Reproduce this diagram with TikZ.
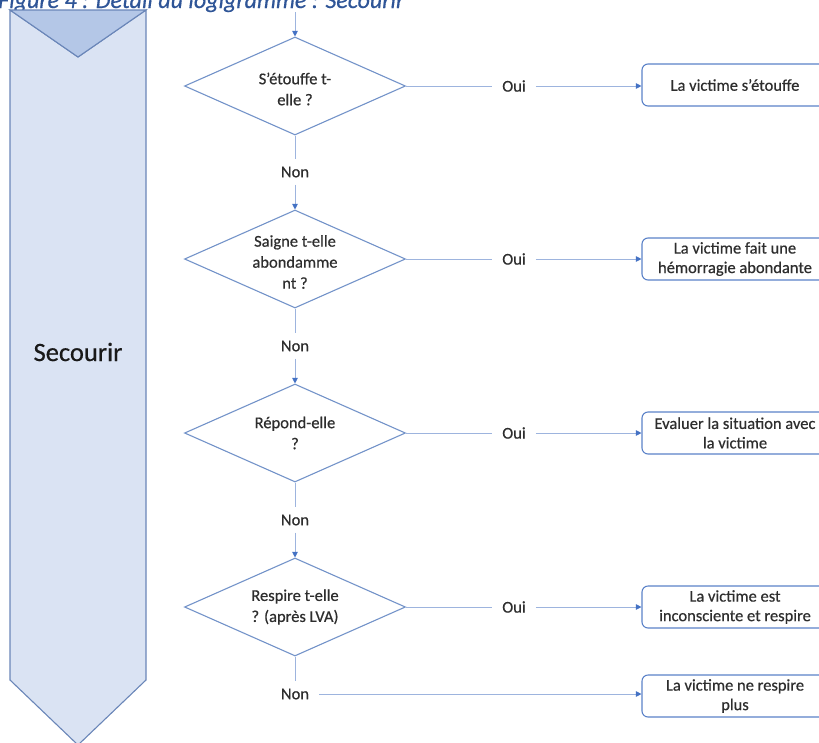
\documentclass[tikz,border=0pt]{standalone}
\usepackage{fontspec}
\setmainfont{Carlito}[FakeBold=0.5]
\usetikzlibrary{shapes.geometric,arrows.meta}
\definecolor{chevfill}{HTML}{DAE3F3}
\definecolor{chevtop}{HTML}{B4C7E7}
\definecolor{chevline}{HTML}{6A86B8}
\definecolor{dialine}{HTML}{7393C9}
\definecolor{conline}{HTML}{9DB4DE}
\definecolor{tipcol}{HTML}{4472C4}
\definecolor{boxline}{HTML}{5B82C8}
\definecolor{txt}{HTML}{2E2E2E}
\definecolor{titlecol}{HTML}{2F5597}
\tikzset{
  dia/.style={shape=diamond, draw=dialine, line width=1.1pt, fill=white, inner sep=0pt,
    minimum width=221pt, minimum height=98pt, aspect=2.25},
  dtext/.style={font=\fontsize{16.5}{21}\selectfont, text=txt, align=center, inner sep=0pt},
  lbl/.style={font=\fontsize{16.5}{20}\selectfont, text=txt, inner sep=0pt, fill=white},
  outbox/.style={draw=boxline, line width=1.1pt, rounded corners=6pt, fill=white,
    minimum width=186pt, minimum height=42pt, align=center, inner sep=0pt,
    font=\fontsize{16.5}{19.5}\selectfont, text=txt},
  conn/.style={draw=conline, line width=0.8pt},
  arr/.style={conn, -{Triangle[length=5.5pt,width=5.5pt,fill=tipcol,color=tipcol]}},
}
\begin{document}
\begin{tikzpicture}[x=1pt,y=-1pt]
\useasboundingbox (0,0) rectangle (819,742);
\clip (0,0) rectangle (819,742);
% title
\node[anchor=base west, inner sep=0pt, font=\fontsize{24}{28}\selectfont\itshape, text=titlecol] (title) at (-2,8) {Figure 4 : Détail du logigramme : Secourir};
% chevron
\path[fill=chevfill, draw=chevline, line width=1.1pt] (10,10) -- (78,57) -- (146,10) -- (146,680) -- (78,745) -- (10,680) -- cycle;
\path[fill=chevtop, draw=chevline, line width=1.1pt] (10,10) -- (146,10) -- (78,57) -- cycle;
\node[font=\fontsize{26.5}{30}\selectfont, text=black!90, inner sep=0pt] (sec) at (78,352) {Secourir};
% diamonds
\node[dia] (d1) at (295,86) {};
\node[dtext] (t1) at (295,89) {S’étouffe t-\\elle ?};
\node[dia] (d2) at (295,259) {};
\node[dtext] (t2) at (295,262) {Saigne t-elle\\abondamme\\nt ?};
\node[dia] (d3) at (295,433) {};
\node[dtext] (t3) at (295,433) {Répond-elle\\?};
\node[dia] (d4) at (295,607) {};
\node[dtext] (t4) at (295,607) {Respire t-elle\\? (après LVA)};
% outputs
\node[outbox] (b1) at (735,85) {La victime s’étouffe};
\node[outbox] (b2) at (735,259) {La victime fait une\\hémorragie abondante};
\node[outbox] (b3) at (735,433) {Evaluer la situation avec\\la victime};
\node[outbox] (b4) at (735,607) {La victime est\\inconsciente et respire};
\node[outbox] (b5) at (735,696) {La victime ne respire\\plus};
% oui labels
\node[lbl] (o1) at (514,86) {Oui};
\node[lbl] (o2) at (514,259) {Oui};
\node[lbl] (o3) at (514,433) {Oui};
\node[lbl] (o4) at (514,607) {Oui};
% non labels
\node[lbl] (n1) at (295,172) {Non};
\node[lbl] (n2) at (295,346) {Non};
\node[lbl] (n3) at (295,520) {Non};
\node[lbl] (n4) at (295,694) {Non};
% top entry
\coordinate (entry) at (295,12);
\draw[arr] (entry) -- (d1.north);
% yes branches
\draw[conn] (d1.east) -- ([xshift=-10pt]o1.west);
\draw[arr] ([xshift=10pt]o1.east) -- (o1.east -| b1.west);
\draw[conn] (d2.east) -- ([xshift=-10pt]o2.west);
\draw[arr] ([xshift=10pt]o2.east) -- (o2.east -| b2.west);
\draw[conn] (d3.east) -- ([xshift=-10pt]o3.west);
\draw[arr] ([xshift=10pt]o3.east) -- (o3.east -| b3.west);
\draw[conn] (d4.east) -- ([xshift=-10pt]o4.west);
\draw[arr] ([xshift=10pt]o4.east) -- (o4.east -| b4.west);
% no branches
\draw[conn] (d1.south) -- ([yshift=7pt]n1.north);
\draw[arr] ([yshift=-7pt]n1.south) -- (d2.north);
\draw[conn] (d2.south) -- ([yshift=7pt]n2.north);
\draw[arr] ([yshift=-7pt]n2.south) -- (d3.north);
\draw[conn] (d3.south) -- ([yshift=7pt]n3.north);
\draw[arr] ([yshift=-7pt]n3.south) -- (d4.north);
\draw[conn] (d4.south) -- ([yshift=7pt]n4.north);
\draw[arr] ([xshift=10pt]n4.east) -- (n4.east -| b5.west);
\end{tikzpicture}
\end{document}
